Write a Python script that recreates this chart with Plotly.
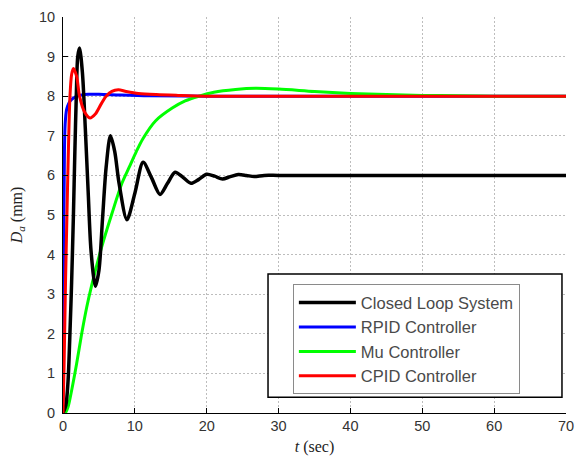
import plotly.graph_objects as go

# ---- data ----
t_closed = [0, 0.4, 0.7, 1.0, 1.2, 1.45, 1.65, 1.85, 2.05, 2.3, 2.7, 3.1, 3.5, 3.9, 4.5,
            5.0, 5.5, 6.0, 6.6, 7.2, 7.8, 8.9, 10.0, 11.15, 12.3, 13.5, 14.55, 15.6,
            16.7, 17.8, 18.9, 20.0, 21.1, 22.2, 23.3, 24.4, 25.5, 26.6, 28.0, 30.0, 40.0, 50.0, 60.0, 70.0]
y_closed = [0, 0.2, 0.8, 2.2, 3.3, 5.0, 6.6, 8.0, 9.0, 9.22, 8.6, 7.2, 5.6, 4.1, 3.2,
            3.6, 4.9, 6.2, 7.0, 6.6, 5.8, 4.88, 5.55, 6.33, 5.95, 5.52, 5.8, 6.08,
            5.95, 5.8, 5.9, 6.03, 5.98, 5.91, 5.97, 6.02, 6.0, 5.97, 6.0, 6.0, 6.0, 6.0, 6.0, 6.0]

t_rpid = [0, 0.05, 0.12, 0.2, 0.3, 0.5, 0.8, 1.2, 1.8, 2.6, 3.5, 5.0, 8.0, 12.0, 20.0, 40.0, 70.0]
y_rpid = [0, 1.5, 4.5, 6.6, 7.3, 7.66, 7.82, 7.92, 7.99, 8.03, 8.05, 8.05, 8.03, 8.01, 8.0, 8.0, 8.0]

t_mu = [0, 0.3, 0.7, 1.2, 1.9, 2.6, 3.3, 4.0, 5.4, 6.8, 8.2, 9.2, 10.2, 11.1, 12.9, 15.2,
        17.0, 18.9, 21.0, 24.0, 26.8, 30.0, 35.0, 40.0, 45.0, 50.0, 55.0, 60.0, 70.0]
y_mu = [0, 0.0, 0.15, 0.57, 1.25, 2.0, 2.67, 3.23, 4.2, 5.03, 5.8, 6.2, 6.6, 6.92, 7.38, 7.7,
        7.88, 8.0, 8.1, 8.17, 8.2, 8.18, 8.12, 8.07, 8.04, 8.02, 8.01, 8.0, 8.0]

t_cpid = [0, 0.15, 0.35, 0.55, 0.72, 0.97, 1.2, 1.45, 1.9, 2.3, 3.0, 3.75, 4.5, 5.3, 6.0,
          6.8, 7.7, 8.8, 10.5, 13.0, 16.0, 20.0, 30.0, 70.0]
y_cpid = [0, 1.2, 3.3, 5.0, 6.4, 8.0, 8.55, 8.7, 8.5, 8.0, 7.6, 7.45, 7.55, 7.8, 8.0,
          8.12, 8.16, 8.12, 8.07, 8.04, 8.02, 8.0, 8.0, 8.0]

series_names = ["Closed Loop System", "RPID Controller", "Mu Controller", "CPID Controller"]
series_colors = ["#000000", "#0000ff", "#00ff00", "#ff0000"]

x_ticks = [0, 10, 20, 30, 40, 50, 60, 70]
y_ticks = [0, 1, 2, 3, 4, 5, 6, 7, 8, 9, 10]

fig = go.Figure()
data = [(t_closed, y_closed), (t_rpid, y_rpid), (t_mu, y_mu), (t_cpid, y_cpid)]
widths = [3.5, 3, 3, 3]
draw_order = [1, 2, 0, 3]  # blue, green under black; red on top
for i in draw_order:
    tx, ty = data[i]
    fig.add_trace(go.Scatter(x=tx, y=ty, mode="lines", name=series_names[i],
                             line=dict(color=series_colors[i], width=widths[i],
                                       shape="spline", smoothing=0.8),
                             legendrank=i + 1))

# outer legend frame
fig.add_shape(type="rect", xref="paper", yref="paper",
              x0=0.4076, x1=0.992, y0=0.04, y1=0.351,
              line=dict(color="black", width=1.5), fillcolor="white", layer="above")

axis_common = dict(showline=True, linecolor="black", linewidth=1, mirror=False,
                   ticks="inside", ticklen=5, tickcolor="black", automargin=False,
                   showgrid=True, gridcolor="#bdbdbd", griddash="2px,2px", gridwidth=1,
                   zeroline=False,
                   tickfont=dict(family="Liberation Sans, Arial", size=14.5, color="#333333"))

# the page body adds an 8px offset, so the figure is 8px smaller than the window
fig.update_layout(
    width=578, height=452,
    margin=dict(l=55, r=20, t=9, b=47, autoexpand=False),
    paper_bgcolor="white", plot_bgcolor="white",
    showlegend=True,
    legend=dict(x=0.457, y=0.325, xanchor="left", yanchor="top",
                bgcolor="white", bordercolor="#8a8a8a", borderwidth=1,
                itemwidth=57, tracegroupgap=0,
                font=dict(family="Liberation Sans, Arial", size=16.5, color="#4a4a4a")),
    xaxis=dict(range=[0, 70], tickvals=x_ticks,
               title=dict(text="<i>t</i> (sec)", standoff=7,
                          font=dict(family="Liberation Serif, Times New Roman", size=16, color="#222222")),
               **axis_common),
    yaxis=dict(range=[0, 10], tickvals=y_ticks, ticklabelstandoff=4,
               title=dict(text="<i>D<sub>a</sub></i> (mm)", standoff=12,
                          font=dict(family="Liberation Serif, Times New Roman", size=16, color="#222222")),
               **axis_common),
)

fig.write_html("out.html")
